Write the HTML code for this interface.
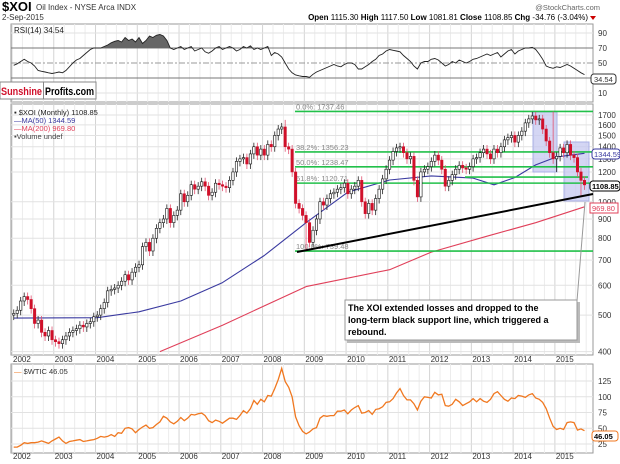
<!DOCTYPE html>
<html><head><meta charset="utf-8"><style>
body{margin:0;background:#fff;}
svg{display:block;font-family:"Liberation Sans",Arial,sans-serif;}
</style></head><body>
<svg id="c" width="620" height="464" viewBox="0 0 620 464" xmlns="http://www.w3.org/2000/svg">
<rect width="620" height="464" fill="#fff"/>
<g id="grid"></g>
<g id="marks"></g>
<g id="over"></g>
</svg>
<script>
// ---- DATA ----
const startYear = 2002;
const years = [2002,2003,2004,2005,2006,2007,2008,2009,2010,2011,2012,2013,2014,2015];
const closes = [
505,515,545,560,550,520,475,485,450,440,455,430,
425,420,430,440,450,455,460,470,465,475,480,495,
500,520,540,580,585,590,600,615,640,620,650,670,
680,760,780,740,800,850,880,900,960,880,920,950,
1050,1000,1040,1110,1080,1100,1130,1100,1040,1060,1120,1110,
1100,1090,1140,1200,1280,1300,1310,1260,1340,1400,1330,1380,
1330,1420,1400,1500,1560,1580,1400,1380,1200,990,960,920,
880,780,840,900,1000,980,1020,1050,1060,1080,1090,1120,
1050,1080,1100,1140,1000,930,990,950,1020,1080,1150,1220,
1290,1360,1390,1400,1350,1300,1320,1140,1030,1200,1220,1240,
1280,1330,1290,1220,1100,1140,1180,1220,1250,1230,1220,1240,
1300,1310,1350,1380,1340,1300,1380,1350,1400,1460,1480,1500,
1440,1500,1540,1620,1660,1690,1650,1660,1560,1450,1350,1300,
1320,1390,1350,1420,1330,1310,1200,1140,1108.85];
const extremeIdx = [78,84,85,148,155,156,163];
const extremeHigh = [1650,null,null,null,1737,null,null];
const extremeLow = [null,739,null,null,null,1200,1030];
const rsi = [
47,49,52,55,52,50,46,40,39,38,37,36,
37,38,37,40,45,50,54,56,60,64,68,70,
70,70,72,74,77,79,80,78,84,80,82,78,
84,76,80,86,84,87,88,86,80,70,68,70,
72,68,70,72,66,68,70,65,63,66,70,72,
68,70,72,70,66,68,72,70,73,68,70,68,
70,72,60,64,62,58,50,42,37,34,33,32,
32,31,35,38,40,42,44,46,48,46,45,48,
50,50,48,42,42,45,48,52,55,60,62,66,
68,67,66,65,60,56,52,46,42,50,52,52,
55,56,54,50,46,48,52,50,54,52,50,52,
55,56,58,60,62,60,62,64,58,62,66,68,
62,66,68,70,70,71,68,62,55,46,44,43,
45,44,46,48,46,43,40,37,34.54];
const wtic = [
20,20,23,27,26,27,27,28,30,28,26,30,
33,36,30,26,29,30,31,32,29,30,31,32,
34,37,36,37,40,37,43,42,50,51,49,43,
48,52,55,50,51,56,60,69,66,60,57,61,
67,62,66,72,71,73,74,70,62,59,63,61,
58,62,66,66,64,70,78,74,81,94,88,96,
92,102,101,113,127,145,124,115,100,68,54,45,
41,44,49,51,66,70,69,70,70,77,77,79,
73,79,83,86,74,75,78,72,80,81,84,91,
92,97,106,113,102,95,95,89,79,93,100,99,
98,107,103,104,86,85,88,96,92,86,89,92,
97,92,97,93,91,96,105,108,102,96,93,98,
97,102,101,99,103,105,98,96,91,81,66,53,
48,50,48,59,60,59,47,49,46.05];
const ma50Idx = [0,24,36,48,60,72,84,96,108,120,132,138,144,150,156,164];
const ma50Val = [491,492,510,545,610,720,880,1060,1142,1171,1156,1109,1160,1253,1316,1344.59];
const ma200Idx = [42,60,84,108,120,136,150,164];
const ma200Val = [400,470,595,660,735,810,880,969.8];
const fibLevels = [1737.46,1356.23,1238.47,1120.71,739.48];
const fibLabels = ["0.0%: 1737.46","38.2%: 1356.23","50.0%: 1238.47","61.8%: 1120.71","100.0%: 739.48"];
const priceTicks = [400,500,600,700,800,900,1000,1200,1300,1400,1500,1600,1700];
const rsiTicks = [10,30,50,70,90];
const wticTicks = [25,50,75,100,125];

// ---- SCALES ----
const NS="http://www.w3.org/2000/svg";
const X0=12, MW=3.48, L=11, R=593;
const xM = i => X0 + (i+0.5)*MW;
const xY = y => X0 + (y-startYear)*12*MW;
const yP = p => 115 + (Math.log(1700) - Math.log(p))*163.5;
const yR = v => 63 - (v-50)*0.75;
const yW = v => 444 - (v-25)*0.63;
function el(tag, a, parent, txt){const e=document.createElementNS(NS,tag);for(const k in a)e.setAttribute(k,a[k]);if(txt!==undefined)e.textContent=txt;(parent||document.getElementById('marks')).appendChild(e);return e;}
const G=document.getElementById('grid'), M=document.getElementById('marks'), O=document.getElementById('over');

const panels=[[24,102],[104,355],[364,453]];
panels.forEach((p,k)=>{
  const r=el('rect',{x:L,y:p[0],width:R-L,height:p[1]-p[0],fill:'#fff',stroke:'#999','stroke-width':1},G);
  
  
  years.forEach(y=>{
    for(let h=0;h<4;h++){const x=xY(y)+h*3*MW; if(x>R)continue;
      el('line',{x1:x,x2:x,y1:p[0],y2:p[1],stroke:h==0?'#d4d4d4':'#ececec','stroke-width':1},G);}
  });
});
[362,459].forEach((yy,k)=>years.forEach(y=>{
  const t=el('text',{x:xY(y)+1,y:yy,'font-size':8,fill:'#333'},G,String(y));
  
  
}));
priceTicks.forEach(p=>{
  el('line',{x1:L,x2:R,y1:yP(p),y2:yP(p),stroke:'#e2e2e2'},G);
  const t=el('text',{x:598,y:yP(p)+3,'font-size':8,fill:'#333'},G,String(p));
  
  
});
rsiTicks.forEach(v=>{
  if(v==70||v==30) el('line',{x1:L,x2:R,y1:yR(v),y2:yR(v),stroke:'#777'},G);
  else if(v==50) el('line',{x1:L,x2:R,y1:yR(v),y2:yR(v),stroke:'#999','stroke-dasharray':'6,2,2,2'},G);
  else el('line',{x1:L,x2:R,y1:yR(v),y2:yR(v),stroke:'#e2e2e2'},G);
  if(v!=30){const t=el('text',{x:598,y:yR(v)+3,'font-size':8,fill:'#333'},G,String(v));
  
  }
});
wticTicks.forEach(v=>{
  el('line',{x1:L,x2:R,y1:yW(v),y2:yW(v),stroke:'#e2e2e2'},G);
  const t=el('text',{x:598,y:yW(v)+3,'font-size':8,fill:'#333'},G,String(v));
  
  
});

let rp=rsi.map((v,i)=>xM(i).toFixed(1)+','+yR(v).toFixed(1));
el('defs',{},M).innerHTML='<clipPath id="ob"><rect x="11" y="24" width="582" height="'+(yR(70)-24)+'"/></clipPath>';
const area=el('polygon',{points:xM(0)+','+yR(70)+' '+rp.join(' ')+' '+xM(rsi.length-1)+','+yR(70),fill:'#666','clip-path':'url(#ob)'});


const rl=el('polyline',{points:rp.join(' '),fill:'none',stroke:'#222','stroke-width':0.9});



[[533,112,24,60],[564,142,25,59]].forEach(b=>{
  const r=el('rect',{x:b[0],y:b[1],width:b[2],height:b[3],fill:'#c5c8f0','fill-opacity':0.75,stroke:'#aab0e6'});
  
  
});
function lineFrom(idx,val,color,name){
  const l=el('polyline',{points:idx.map((i,k)=>xM(i).toFixed(1)+','+yP(val[k]).toFixed(1)).join(' '),fill:'none',stroke:color,'stroke-width':1.1,'stroke-linejoin':'round'});
  
  
}
lineFrom(ma50Idx,ma50Val,'#3a3aa0','ma50-line');
lineFrom(ma200Idx,ma200Val,'#e0405a','ma200-line');

fibLevels.forEach((f,k)=>{
  const l=el('line',{x1:295,x2:R,y1:yP(f),y2:yP(f),stroke:'#22c04a','stroke-width':1.6});
  
  
  const t=el('text',{x:296,y:yP(f)-2,'font-size':7.5,fill:'#888'},M,fibLabels[k]);
  
  
});
const gl=el('line',{x1:465,x2:588,y1:yP(1163),y2:yP(1163),stroke:'#22c04a','stroke-width':1.6});



closes.forEach((c,i)=>{
  const o = i===0?500:closes[i-1];
  let hi=Math.max(o,c)*1.025, lo=Math.min(o,c)*0.97;
  const e=extremeIdx.indexOf(i);
  if(e>=0){if(extremeHigh[e])hi=extremeHigh[e];if(extremeLow[e])lo=extremeLow[e];}
  const x=xM(i), down=c<o, col=down?'#d0102a':'#111';
  const w=el('line',{x1:x,x2:x,y1:yP(hi),y2:yP(lo),stroke:down?'#e05070':'#222','stroke-width':0.8});
  
  
  const yt=yP(Math.max(o,c)), yb=yP(Math.min(o,c));
  const b=el('rect',{x:x-1.2,y:yt,width:2.4,height:Math.max(1,yb-yt),fill:down?'#d0102a':'#fff',stroke:col,'stroke-width':0.6});
  
  
});

const sl=el('line',{x1:297,y1:252,x2:593,y2:194,stroke:'#000','stroke-width':2});



const wl=el('polyline',{points:wtic.map((v,i)=>xM(i).toFixed(1)+','+yW(v).toFixed(1)).join(' '),fill:'none',stroke:'#f07820','stroke-width':1.3});


</script>
<script>
(function(){
const O=document.getElementById('over');
O.innerHTML=`
<text x="2" y="11" font-size="13" font-weight="bold" fill="#000">$XOI</text>
<text x="36" y="10" font-size="8" fill="#333">Oil Index - NYSE Arca INDX</text>
<text x="600" y="10" font-size="7.5" fill="#666" text-anchor="end">@StockCharts.com</text>
<text x="2" y="20" font-size="8" fill="#333">2-Sep-2015</text>
<text x="588" y="20" font-size="8" text-anchor="end" fill="#000"><tspan font-weight="bold">Open</tspan> 1115.30 <tspan font-weight="bold">High</tspan> 1117.50 <tspan font-weight="bold">Low</tspan> 1081.81 <tspan font-weight="bold">Close</tspan> 1108.85 <tspan font-weight="bold">Chg</tspan> -34.76 (-3.04%)</text>
<polygon points="590,16 596,16 593,20" fill="#c00"/>
<text x="14" y="33" font-size="8" fill="#222">RSI(14) 34.54</text>
<rect x="0" y="82" width="96" height="17" fill="#fff" stroke="#888"/>
<text x="1" y="95" font-size="11" font-weight="bold" fill="#d0102a" textLength="41" lengthAdjust="spacingAndGlyphs">Sunshine</text>
<line x1="43.5" y1="82" x2="43.5" y2="99" stroke="#888"/>
<text x="45" y="95" font-size="11" font-weight="bold" fill="#000" textLength="49" lengthAdjust="spacingAndGlyphs">Profits.com</text>
<text x="14" y="115" font-size="7.5" fill="#222">▪ $XOI (Monthly) 1108.85</text>
<text x="14" y="123" font-size="7.5" fill="#3a3aa0">—MA(50) 1344.59</text>
<text x="14" y="131" font-size="7.5" fill="#e0405a">—MA(200) 969.80</text>
<text x="14" y="139" font-size="7.5" fill="#444">▪Volume undef</text>
<text x="14" y="374" font-size="7.5" fill="#333"><tspan fill="#f07820">—</tspan> $WTIC 46.05</text>
<line x1="585" y1="202" x2="577" y2="301" stroke="#999"/>
<rect x="347" y="302" width="233" height="41" fill="#bbb"/>
<rect x="345" y="300" width="232" height="40" fill="#fff" stroke="#999"/>
<text font-size="9" font-weight="bold" fill="#000"><tspan x="348" y="311">The XOI extended losses and dropped to the</tspan><tspan x="348" y="323">long-term black support line, which triggered a</tspan><tspan x="348" y="335">rebound.</tspan></text>
<rect x="592" y="149" width="28" height="10" rx="3" fill="#fff" stroke="#3a3aa0"/>
<text x="594" y="157" font-size="7.5" fill="#3a3aa0">1344.59</text>
<rect x="590" y="181" width="30" height="10" rx="3" fill="#fff" stroke="#000"/>
<text x="592" y="189" font-size="7.5" font-weight="bold" fill="#000">1108.85</text>
<rect x="590" y="203" width="28" height="10" fill="#fff" stroke="#e0405a"/>
<text x="592" y="211" font-size="7.5" fill="#e0405a">969.80</text>
<rect x="591" y="74" width="25" height="10" rx="3" fill="#fff" stroke="#333"/>
<text x="594" y="82" font-size="7.5" fill="#333">34.54</text>
<rect x="592" y="431" width="26" height="10" rx="3" fill="#fff" stroke="#f07820"/>
<text x="594" y="439" font-size="7.5" font-weight="bold" fill="#000">46.05</text>`;
})();
</script>
</body></html>
